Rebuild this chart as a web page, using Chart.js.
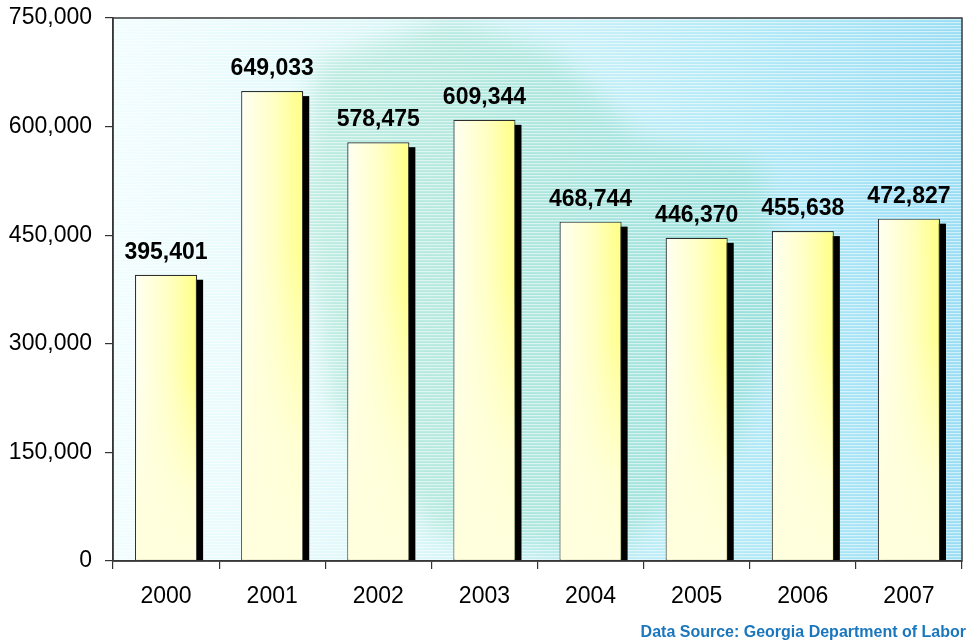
<!DOCTYPE html>
<html>
<head>
<meta charset="utf-8">
<title>Georgia employment</title>
<script src="https://cdn.jsdelivr.net/npm/chart.js@4.4.1/dist/chart.umd.min.js"></script>
<style>
  html, body { margin: 0; padding: 0; background: #fff; }
  #wrap { width: 969px; height: 643px; }
</style>
</head>
<body>
<div id="wrap"><canvas id="canvasYears" width="969" height="643"></canvas></div>
<script>
var years = ['2000', '2001', '2002', '2003', '2004', '2005', '2006', '2007'];
var totals = [395401, 649033, 578475, 609344, 468744, 446370, 455638, 472827];
var yTicks = [0, 150000, 300000, 450000, 600000, 750000];
var sourceNote = 'Data Source: Georgia Department of Labor';

var FONT = '"Liberation Sans", Arial, sans-serif';
var BAR_PCT = 0.585;

function fmt(n) {
  return Number(n).toLocaleString('en-US');
}

// white-to-yellow fill across each bar
function barFill(context) {
  var chart = context.chart;
  var xs = chart.scales.x;
  if (!xs || !xs.width || context.dataIndex === undefined) return '#ffffd0';
  var cx = xs.getPixelForValue(context.dataIndex);
  var half = xs.width / years.length * BAR_PCT / 2;
  var g = chart.ctx.createLinearGradient(cx - half, 0, cx + half, 0);
  g.addColorStop(0, '#fffff4');
  g.addColorStop(0.55, '#ffffc2');
  g.addColorStop(1, '#ffff84');
  return g;
}

// striped cyan panel with a faint green shape behind the bars
var backdrop = {
  id: 'backdrop',
  beforeDraw: function(chart) {
    var c = chart.ctx, a = chart.chartArea;
    var w = a.right - a.left, h = a.bottom - a.top;
    c.save();
    c.beginPath();
    c.rect(a.left, a.top, w, h);
    c.clip();

    var g = c.createLinearGradient(a.left, 0, a.right, 0);
    g.addColorStop(0, '#f1fdfe');
    g.addColorStop(0.35, '#dcf7fa');
    g.addColorStop(0.72, '#b4eaf7');
    g.addColorStop(1, '#98ddf4');
    c.fillStyle = g;
    c.fillRect(a.left, a.top, w, h);

    var shape = [[0.24, 0.08], [0.40, 0.0], [0.52, 0.06], [0.62, 0.22], [0.76, 0.26],
                 [0.80, 0.55], [0.72, 0.82], [0.58, 1.0], [0.38, 0.95], [0.26, 0.72], [0.22, 0.35]];
    c.filter = 'blur(12px)';
    c.fillStyle = 'rgba(110, 208, 170, 0.34)';
    c.beginPath();
    shape.forEach(function(p, i) {
      var px = a.left + p[0] * w, py = a.top + p[1] * h;
      if (i === 0) c.moveTo(px, py); else c.lineTo(px, py);
    });
    c.closePath();
    c.fill();
    c.filter = 'none';

    c.fillStyle = 'rgba(255, 255, 255, 0.55)';
    for (var y = a.top + 1; y < a.bottom; y += 3) {
      c.fillRect(a.left, y, w, 1.2);
    }
    c.restore();
  }
};

// drop shadow to the lower right of each bar
var barShadow = {
  id: 'barShadow',
  beforeDatasetsDraw: function(chart) {
    var c = chart.ctx, a = chart.chartArea;
    c.save();
    c.beginPath();
    c.rect(a.left, a.top, a.right - a.left, a.bottom - a.top);
    c.clip();
    c.fillStyle = '#000';
    chart.getDatasetMeta(0).data.forEach(function(bar) {
      var p = bar.getProps(['x', 'y', 'base', 'width'], true);
      c.fillRect(p.x - p.width / 2 + 6, p.y + 5, p.width, p.base - p.y - 5);
    });
    c.restore();
  }
};

// paler lower part of the bars, value labels, frame and source line
var finishing = {
  id: 'finishing',
  afterDatasetsDraw: function(chart) {
    var c = chart.ctx, a = chart.chartArea;
    var meta = chart.getDatasetMeta(0);
    c.save();
    meta.data.forEach(function(bar, i) {
      var p = bar.getProps(['x', 'y', 'base', 'width'], true);
      var fade = c.createLinearGradient(0, p.y, 0, p.base);
      fade.addColorStop(0, 'rgba(255, 255, 222, 0)');
      fade.addColorStop(0.35, 'rgba(255, 255, 222, 0.1)');
      fade.addColorStop(0.75, 'rgba(255, 255, 222, 0.85)');
      fade.addColorStop(1, 'rgba(255, 255, 222, 1)');
      c.fillStyle = fade;
      c.fillRect(p.x - p.width / 2 + 1, p.y + 1, p.width - 2, p.base - p.y - 1.5);

      c.fillStyle = '#000';
      c.font = 'bold 23px ' + FONT;
      c.textAlign = 'center';
      c.textBaseline = 'alphabetic';
      c.fillText(fmt(totals[i]), p.x, p.y - 16);
    });

    c.strokeStyle = '#3a3a3a';
    c.lineWidth = 1.5;
    c.strokeRect(a.left, a.top, a.right - a.left, a.bottom - a.top);
    c.restore();
  },
  afterDraw: function(chart) {
    var c = chart.ctx;
    c.save();
    c.fillStyle = '#1a77bd';
    c.font = 'bold 16px ' + FONT;
    c.textAlign = 'right';
    c.textBaseline = 'alphabetic';
    c.fillText(sourceNote, 966, 637);
    c.restore();
  }
};

var ctx = document.getElementById('canvasYears');

var barGraph = new Chart(ctx, {
  type: 'bar',
  data: {
    labels: years,
    datasets: [{
      label: 'Employment',
      data: totals,
      backgroundColor: barFill,
      borderColor: '#2e2e2e',
      borderWidth: 1.2,
      borderSkipped: false,
      barPercentage: BAR_PCT,
      categoryPercentage: 1
    }]
  },
  options: {
    responsive: false,
    animation: false,
    layout: { padding: { top: 18, right: 7, left: 0, bottom: 0 } },
    plugins: {
      legend: { display: false },
      tooltip: { enabled: false }
    },
    scales: {
      x: {
        offset: true,
        grid: { offset: true, drawOnChartArea: false, drawTicks: true, tickLength: 8, color: '#333', lineWidth: 1.2 },
        border: { display: true, color: '#333', width: 1.5 },
        ticks: { color: '#000', padding: 14, maxRotation: 0, font: { family: FONT, size: 23 } },
        afterFit: function(scale) {
          scale.height = 82;
          scale.paddingLeft = 0;
          scale.paddingRight = 0;
        }
      },
      y: {
        min: 0,
        max: 750000,
        afterBuildTicks: function(scale) {
          scale.ticks = yTicks.map(function(v) { return { value: v }; });
        },
        grid: { drawOnChartArea: false, drawTicks: true, tickLength: 8, color: '#333', lineWidth: 1.2 },
        border: { display: true, color: '#333', width: 1.5 },
        ticks: {
          color: '#000',
          padding: 13,
          font: { family: FONT, size: 23 },
          callback: function(v) { return fmt(v); }
        },
        afterFit: function(scale) {
          scale.width = 113;
          scale.paddingTop = 0;
          scale.paddingBottom = 0;
        }
      }
    }
  },
  plugins: [backdrop, barShadow, finishing]
});
</script>
</body>
</html>
